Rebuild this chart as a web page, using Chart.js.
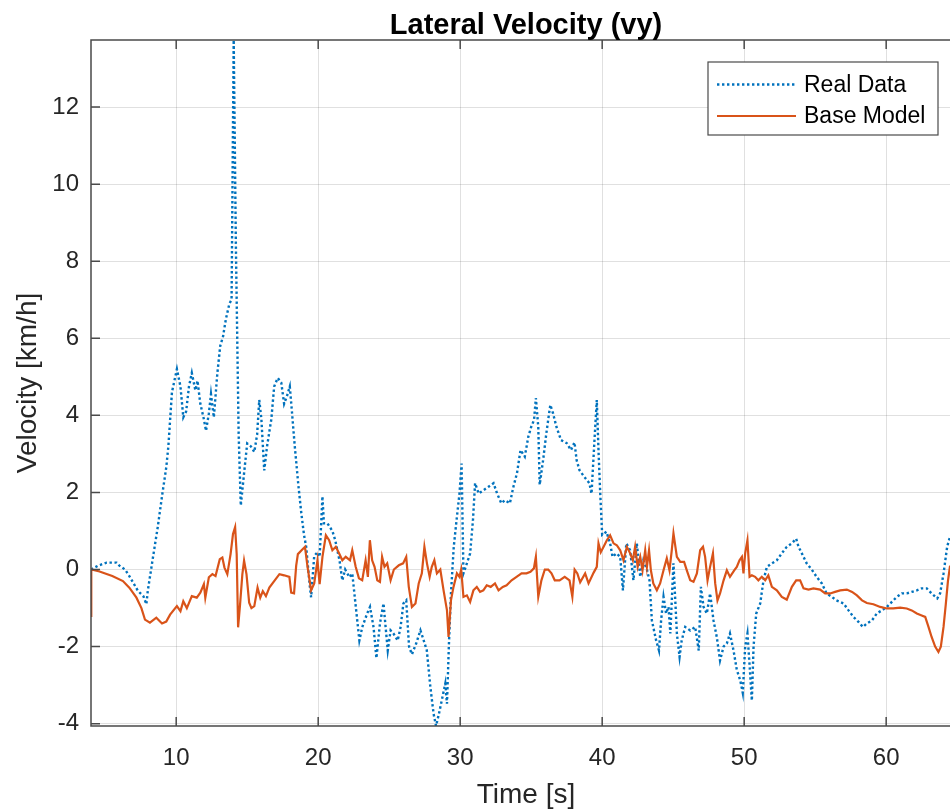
<!DOCTYPE html>
<html>
<head>
<meta charset="utf-8">
<script src="https://cdn.jsdelivr.net/npm/chart.js@4"></script>
<style>
  html, body { margin: 0; padding: 0; background: #ffffff; overflow: hidden; }
  #frame { width: 950px; height: 812px; overflow: hidden; position: relative; }
  canvas { display: block; }
</style>
</head>
<body>
<div id="frame"><canvas id="chart" width="965" height="812"></canvas></div>
<script>
// Measured lateral velocity (km/h) against time (s)
const timeReal = [4.0,4.5,5.1,5.8,6.0,6.4,6.7,7.3,7.7,7.9,8.0,8.4,8.7,9.0,9.3,9.45,9.7,10.05,10.3,10.5,10.7,10.9,11.1,11.35,11.5,11.7,11.95,12.1,12.3,12.45,12.65,12.9,13.1,13.3,13.5,13.75,13.9,14.05,14.2,14.4,14.55,14.8,15.0,15.25,15.5,15.7,15.85,16.0,16.2,16.4,16.7,16.9,17.15,17.4,17.6,17.8,18.0,18.15,18.35,18.6,18.8,19.0,19.15,19.4,19.5,19.72,19.95,20.1,20.3,20.4,20.65,21.0,21.2,21.5,21.7,21.9,22.2,22.4,22.6,22.9,23.1,23.45,23.65,23.9,24.1,24.35,24.6,24.75,24.9,25.1,25.3,25.6,25.8,26.0,26.2,26.4,26.6,26.9,27.2,27.5,27.65,27.9,28.13,28.3,28.5,28.7,28.95,29.07,29.2,29.35,29.55,29.77,29.95,30.1,30.23,30.47,30.7,30.9,31.05,31.3,31.65,32.0,32.35,32.6,32.9,33.15,33.5,33.75,34.0,34.25,34.55,34.8,35.0,35.2,35.33,35.5,35.6,35.84,36.07,36.26,36.35,36.54,36.78,37.1,37.5,37.8,38.05,38.2,38.4,38.75,39.1,39.25,39.45,39.62,39.75,39.86,40.0,40.3,40.56,40.73,41.0,41.27,41.46,41.7,41.97,42.2,42.44,42.68,42.9,43.15,43.33,43.5,43.8,44.0,44.15,44.32,44.5,44.67,44.8,45.02,45.26,45.45,45.6,45.85,46.2,46.55,46.8,46.95,47.14,47.37,47.6,47.84,48.07,48.3,48.55,48.78,49.0,49.25,49.48,49.72,49.9,50.07,50.23,50.42,50.54,50.66,50.85,51.13,51.36,51.6,51.95,52.3,52.65,53.0,53.36,53.66,53.83,54.06,54.4,54.76,55.1,55.47,55.8,56.17,56.5,57.0,57.35,57.7,58.05,58.36,58.64,59.0,59.34,59.7,60.05,60.4,60.75,61.1,61.45,61.8,62.16,62.5,62.86,63.2,63.6,63.8,64.04,64.3,64.5];
const speedReal = [0.0,0.1,0.18,0.18,0.1,0.0,-0.17,-0.55,-0.7,-0.9,-0.55,0.4,1.1,1.9,2.65,3.2,4.6,5.2,4.75,3.95,4.1,4.75,5.1,4.65,4.9,4.3,3.9,3.6,4.05,4.55,3.95,5.1,5.8,6.05,6.5,6.9,7.0,13.74,8.5,3.5,1.66,2.57,3.27,3.2,3.05,3.5,4.4,3.9,2.57,3.2,3.9,4.75,4.97,4.85,4.3,4.5,4.75,4.1,3.2,2.2,1.5,0.9,0.6,-0.4,-0.72,0.35,0.45,0.33,1.9,1.2,1.2,1.0,0.76,0.24,-0.28,0.0,-0.2,-0.1,-0.8,-1.84,-1.5,-1.14,-0.97,-1.5,-2.3,-1.4,-0.88,-1.5,-2.1,-1.58,-1.66,-1.84,-1.5,-0.88,-0.8,-2.0,-2.2,-1.92,-1.58,-1.92,-2.1,-3.05,-3.75,-4.06,-3.75,-3.4,-2.96,-3.48,-2.0,-0.62,0.6,1.37,1.97,2.75,-0.1,0.16,0.42,1.28,2.24,1.97,2.06,2.15,2.24,1.97,1.72,1.8,1.72,2.15,2.5,3.1,2.93,3.45,3.7,3.88,4.45,3.7,2.2,2.84,3.54,4.05,4.27,4.05,3.7,3.36,3.28,3.1,3.3,2.84,2.58,2.4,2.24,1.97,3.3,4.4,3.0,2.0,0.9,0.98,0.68,0.33,0.42,0.33,-0.54,0.68,0.5,-0.28,0.68,-0.19,0.24,0.0,-0.28,-1.32,-1.84,-2.1,-1.32,-0.71,-1.14,-0.97,-1.66,0.16,-1.66,-2.27,-1.84,-1.49,-1.58,-1.49,-2.1,-0.45,-0.97,-1.14,-0.62,-1.32,-1.75,-2.36,-2.0,-1.92,-1.66,-2.1,-2.6,-2.87,-3.2,-2.0,-1.66,-2.7,-3.4,-2.0,-1.14,-0.88,-0.28,0.07,0.16,0.24,0.42,0.59,0.68,0.8,0.59,0.42,0.16,0.0,-0.19,-0.36,-0.62,-0.71,-0.8,-0.88,-1.06,-1.23,-1.36,-1.49,-1.4,-1.32,-1.14,-1.06,-0.97,-0.84,-0.71,-0.62,-0.62,-0.58,-0.54,-0.49,-0.49,-0.62,-0.75,-0.62,-0.1,0.6,0.85];

// Base model lateral velocity (km/h) against time (s)
const timeModel = [4.0,4.02,4.6,5.5,6.25,6.7,7.2,7.55,7.8,8.15,8.6,9.0,9.3,9.57,10.05,10.3,10.5,10.75,11.1,11.45,11.7,11.95,12.05,12.3,12.55,12.77,13.07,13.25,13.4,13.6,13.83,14.0,14.15,14.26,14.36,14.5,14.66,14.78,14.95,15.14,15.3,15.5,15.73,15.92,16.1,16.32,16.56,16.9,17.27,17.6,17.97,18.1,18.3,18.45,18.57,18.83,19.07,19.25,19.5,19.72,19.95,20.1,20.3,20.54,20.77,21.0,21.24,21.47,21.7,21.94,22.24,22.4,22.64,22.87,23.1,23.34,23.5,23.64,23.8,23.97,24.16,24.35,24.5,24.67,24.86,25.1,25.33,25.68,25.98,26.2,26.38,26.6,26.85,27.08,27.3,27.48,27.66,27.85,28.0,28.18,28.36,28.6,28.83,29.07,29.18,29.35,29.53,29.77,29.95,30.07,30.23,30.47,30.7,30.93,31.17,31.4,31.63,31.87,32.15,32.45,32.7,33.0,33.27,33.62,33.97,34.32,34.67,34.95,35.19,35.33,35.5,35.72,35.96,36.2,36.43,36.66,37.0,37.36,37.7,37.9,38.06,38.25,38.45,38.8,39.04,39.4,39.62,39.74,39.9,40.1,40.33,40.56,40.8,41.03,41.27,41.5,41.74,41.97,42.16,42.32,42.5,42.68,42.84,43.03,43.15,43.3,43.43,43.6,43.85,44.08,44.32,44.55,44.74,44.9,45.02,45.26,45.5,45.77,45.96,46.2,46.43,46.67,46.9,47.1,47.25,47.42,47.6,47.8,47.96,48.12,48.3,48.55,48.78,49.0,49.3,49.48,49.67,49.84,49.95,50.07,50.23,50.38,50.54,50.77,51.0,51.24,51.48,51.7,51.95,52.3,52.65,53.0,53.36,53.66,53.94,54.18,54.53,54.88,55.35,55.7,56.06,56.4,56.76,57.23,57.6,57.94,58.3,58.64,59.1,59.58,60.05,60.5,60.99,61.45,61.8,62.16,62.5,62.75,62.98,63.2,63.45,63.68,63.85,64.04,64.2,64.35,64.5];
const speedModel = [-1.2,0.0,-0.05,-0.17,-0.3,-0.47,-0.73,-1.0,-1.3,-1.38,-1.25,-1.4,-1.35,-1.17,-0.95,-1.08,-0.82,-1.0,-0.69,-0.73,-0.6,-0.38,-0.73,-0.2,-0.12,-0.17,0.27,0.31,0.05,-0.12,0.4,0.92,1.1,0.4,-1.5,-0.9,-0.12,0.23,-0.12,-0.86,-1.0,-0.95,-0.47,-0.73,-0.56,-0.69,-0.47,-0.3,-0.12,-0.15,-0.19,-0.6,-0.62,0.1,0.4,0.5,0.59,0.07,-0.54,-0.36,0.24,-0.38,0.33,0.89,0.76,0.5,0.59,0.42,0.24,0.33,0.24,0.5,0.07,-0.23,-0.28,0.24,-0.19,0.76,0.24,0.07,-0.28,-0.32,0.33,0.07,0.16,-0.28,0.0,0.11,0.16,0.33,-0.45,-0.97,-0.88,-0.36,-0.1,0.59,0.16,-0.19,0.07,0.24,-0.1,0.0,-0.54,-1.06,-1.75,-0.8,-0.45,-0.1,-0.19,0.0,-0.71,-0.67,-0.84,-0.54,-0.45,-0.58,-0.54,-0.41,-0.45,-0.36,-0.54,-0.45,-0.41,-0.28,-0.19,-0.1,-0.1,-0.06,0.03,0.33,-0.71,-0.28,0.0,0.0,-0.1,-0.28,-0.28,-0.19,-0.28,-0.71,0.0,-0.1,-0.33,-0.1,-0.36,-0.08,0.07,0.68,0.45,0.59,0.76,0.89,0.68,0.63,0.5,0.24,0.59,0.42,0.24,0.59,0.07,0.33,-0.02,0.5,0.07,0.5,-0.02,-0.36,-0.54,-0.36,-0.02,0.29,-0.02,0.5,0.94,0.33,0.2,0.2,-0.02,-0.28,-0.32,-0.1,0.5,0.59,0.33,-0.28,0.07,0.42,-0.36,-0.8,-0.62,-0.28,-0.02,-0.19,-0.02,0.07,0.24,0.33,-0.1,0.42,0.76,-0.19,-0.15,-0.19,-0.28,-0.19,-0.28,-0.15,-0.45,-0.54,-0.71,-0.78,-0.45,-0.28,-0.28,-0.49,-0.52,-0.49,-0.52,-0.62,-0.62,-0.58,-0.54,-0.52,-0.58,-0.67,-0.8,-0.87,-0.9,-0.97,-1.01,-1.01,-0.99,-1.01,-1.06,-1.14,-1.19,-1.23,-1.49,-1.75,-2.0,-2.14,-2.0,-1.49,-0.9,-0.3,0.1];

const seriesNames = ['Real Data', 'Base Model'];
const xTicks = [10, 20, 30, 40, 50, 60];
const yTicks = [-4, -2, 0, 2, 4, 6, 8, 10, 12];
const titleText = 'Lateral Velocity (vy)';
const xLabel = 'Time [s]';
const yLabel = 'Velocity [km/h]';

const BLUE = '#0072BD';
const ORANGE = '#D95319';
const TEXT = '#262626';
const AXIS = '#4a4a4a';
const GRID = 'rgba(38,38,38,0.14)';
const FONT = "'Liberation Sans', Arial, Helvetica, sans-serif";

const toPoints = (xs, ys) => xs.map((t, i) => ({ x: t, y: ys[i] }));

// Axes box with inward tick marks on all four sides
const axesBox = {
  id: 'axesBox',
  afterDatasetsDraw(chart) {
    const { ctx, chartArea: a, scales: { x, y } } = chart;
    const len = 9;
    ctx.save();
    ctx.strokeStyle = AXIS;
    ctx.lineWidth = 1.5;
    ctx.beginPath();
    ctx.rect(a.left, a.top, a.right - a.left, a.bottom - a.top);
    xTicks.forEach(v => {
      const px = x.getPixelForValue(v);
      ctx.moveTo(px, a.bottom); ctx.lineTo(px, a.bottom - len);
      ctx.moveTo(px, a.top); ctx.lineTo(px, a.top + len);
    });
    yTicks.forEach(v => {
      const py = y.getPixelForValue(v);
      ctx.moveTo(a.left, py); ctx.lineTo(a.left + len, py);
      ctx.moveTo(a.right, py); ctx.lineTo(a.right - len, py);
    });
    ctx.stroke();
    ctx.restore();
  }
};

// Title above the axes and a boxed legend in the upper right corner
const decorations = {
  id: 'decorations',
  afterDraw(chart) {
    const { ctx, chartArea: a } = chart;
    ctx.save();
    ctx.fillStyle = '#000000';
    ctx.font = `bold 29px ${FONT}`;
    ctx.textAlign = 'center';
    ctx.textBaseline = 'alphabetic';
    ctx.fillText(titleText, (a.left + a.right) / 2, a.top - 6);

    const boxW = 230, boxH = 73;
    const bx = a.right - 23 - boxW, by = a.top + 22;
    ctx.fillStyle = '#ffffff';
    ctx.fillRect(bx, by, boxW, boxH);
    ctx.strokeStyle = AXIS;
    ctx.lineWidth = 1.2;
    ctx.strokeRect(bx, by, boxW, boxH);

    ctx.font = `23px ${FONT}`;
    ctx.textAlign = 'left';
    ctx.textBaseline = 'middle';
    chart.data.datasets.forEach((ds, i) => {
      const ry = by + 22.5 + i * 31.5;
      ctx.save();
      ctx.strokeStyle = ds.borderColor;
      ctx.lineWidth = ds.borderWidth;
      ctx.setLineDash(ds.borderDash || []);
      ctx.beginPath();
      ctx.moveTo(bx + 9, ry);
      ctx.lineTo(bx + 88, ry);
      ctx.stroke();
      ctx.restore();
      ctx.fillStyle = '#000000';
      ctx.fillText(ds.label, bx + 96, ry + 1);
    });
    ctx.restore();
  }
};

new Chart(document.getElementById('chart'), {
  type: 'line',
  data: {
    datasets: [
      {
        label: seriesNames[0],
        data: toPoints(timeReal, speedReal),
        borderColor: BLUE,
        borderWidth: 2.4,
        borderDash: [2.4, 2.6],
        borderCapStyle: 'butt',
        order: 2
      },
      {
        label: seriesNames[1],
        data: toPoints(timeModel, speedModel),
        borderColor: ORANGE,
        borderWidth: 2.2,
        order: 1
      }
    ]
  },
  options: {
    responsive: false,
    animation: false,
    devicePixelRatio: 1,
    parsing: false,
    layout: { padding: { top: 40, right: 4, left: 0, bottom: 0 } },
    elements: { point: { radius: 0 }, line: { tension: 0, fill: false } },
    plugins: {
      legend: { display: false },
      title: { display: false },
      tooltip: { enabled: false }
    },
    scales: {
      x: {
        type: 'linear',
        min: 4,
        max: 65.27,
        afterBuildTicks: s => { s.ticks = xTicks.map(v => ({ value: v })); },
        afterFit: s => { s.height = 86; },
        border: { display: false },
        grid: { color: GRID, lineWidth: 1, drawTicks: false },
        ticks: {
          color: TEXT, padding: 18, maxRotation: 0, autoSkip: false,
          font: { family: FONT, size: 24 },
          callback: v => String(v)
        },
        title: {
          display: true, text: xLabel, color: TEXT,
          font: { family: FONT, size: 28 },
          padding: { top: 0, bottom: 0 }
        }
      },
      y: {
        type: 'linear',
        min: -4.06,
        max: 13.74,
        afterBuildTicks: s => { s.ticks = yTicks.map(v => ({ value: v })); },
        afterFit: s => { s.width = 91; },
        border: { display: false },
        grid: { color: GRID, lineWidth: 1, drawTicks: false },
        ticks: {
          color: TEXT, padding: 12, autoSkip: false,
          font: { family: FONT, size: 24 },
          callback: v => String(v)
        },
        title: {
          display: true, text: yLabel, color: TEXT,
          font: { family: FONT, size: 28 },
          padding: { top: 11, bottom: 0 }
        }
      }
    }
  },
  plugins: [axesBox, decorations]
});
</script>
</body>
</html>
